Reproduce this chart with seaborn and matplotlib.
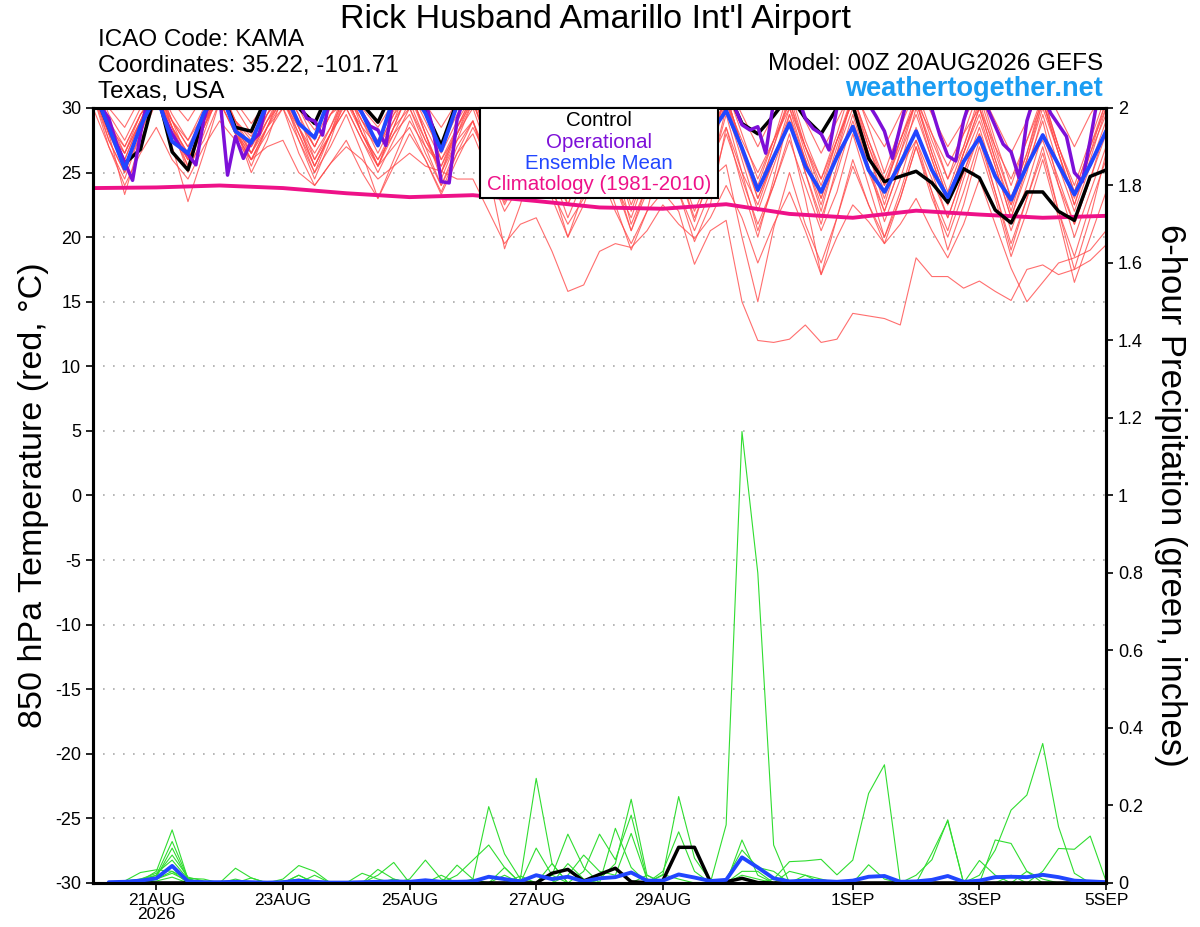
import numpy as np
import seaborn as sns
import matplotlib.pyplot as plt
from matplotlib.patches import Rectangle

sns.set_style('ticks')
plt.rcParams['font.family'] = ['Liberation Sans', 'DejaVu Sans']
plt.rcParams['axes.unicode_minus'] = False
for key in ('text.color', 'axes.labelcolor', 'xtick.color', 'ytick.color', 'axes.edgecolor'):
    plt.rcParams[key] = 'black'

# x axis: days after 00Z 20AUG2026
tick_days = [1, 3, 5, 7, 9, 12, 14, 16]
tick_labels = ['21AUG\n2026', '23AUG', '25AUG', '27AUG', '29AUG', '1SEP', '3SEP', '5SEP']

# 850 hPa temperature, 6-hourly 00Z 20AUG -> 00Z 5SEP (one row per day)
control_t = [31.5, 28.5, 25.7, 26.8,  31.5, 26.6, 25.2, 29.5,  31.5, 28.5, 28.2, 31.0,
             31.5, 30.0, 28.8, 31.5,  31.5, 30.3, 28.9, 31.5,  31.5, 29.8, 27.1, 30.5,
             31.5, 30.5, 29.0, 31.0,  32.0, 30.5, 29.0, 31.0,  32.0, 30.0, 28.5, 30.5,
             31.5, 30.0, 29.0, 30.5,  31.5, 28.8, 28.0, 29.4,  31.0, 29.2, 28.0, 30.0,
             30.2, 26.1, 24.3, 24.7,  25.1, 24.2, 22.7, 25.3,  24.6, 22.1, 21.1, 23.5,
             23.5, 22.0, 21.3, 24.7,  25.2]

mean_t = [31.5, 28.5, 25.3, 28.6,  31.0, 27.4, 26.5, 29.6,  31.5, 28.2, 27.3, 30.4,
          31.5, 28.8, 27.7, 31.0,  31.5, 29.6, 27.1, 30.8,  31.5, 29.6, 26.7, 30.2,
          31.0, 29.0, 27.0, 29.5,  30.5, 28.0, 26.0, 28.5,  30.0, 27.5, 25.5, 28.0,
          29.5, 27.0, 25.0, 28.0,  29.8, 26.9, 23.65, 26.2, 28.8, 25.5, 23.5, 26.2,
          28.55, 25.2, 23.5, 25.7, 28.2, 25.2, 23.1, 25.85, 27.7, 24.7, 22.9, 25.5,
          27.9, 25.6, 23.3, 25.6,  28.2]

# operational run is 3-hourly
oper_t = [31.5, 30.1, 29.2, 27.2, 25.8, 24.4, 28.0, 31.0,
          31.0, 29.3, 28.0, 27.0, 26.4, 25.6, 29.1, 31.0,
          31.0, 24.8, 27.8, 26.1, 27.4, 28.0, 30.5, 31.5,
          31.5, 31.0, 30.5, 29.2, 29.0, 27.9, 31.0, 31.5,
          31.5, 31.0, 29.6, 28.6, 28.3, 27.1, 31.0, 31.5,
          31.5, 31.0, 30.5, 28.3, 24.3, 24.2, 29.1, 31.0,
          31.5, 31.0, 30.0, 29.0, 28.0, 29.0, 31.0, 32.0,
          31.0, 30.0, 29.0, 28.5, 29.5, 31.0, 32.0, 31.0,
          30.0, 28.5, 27.5, 28.5, 30.5, 32.0, 31.5, 30.0,
          28.5, 27.5, 28.5, 30.5, 32.0, 31.5, 30.5, 30.5,
          31.0, 30.2, 28.7, 28.3, 28.55, 26.5, 30.5, 31.5,
          31.5, 31.0, 29.2, 28.4, 28.0, 26.75, 30.0, 31.0,
          31.5, 31.0, 30.3, 29.3, 28.2, 26.1, 28.55, 31.0,
          31.5, 31.0, 29.9, 27.9, 26.3, 25.9, 29.0, 31.0,
          31.5, 30.0, 28.6, 27.2, 26.6, 24.6, 29.0, 31.0,
          31.0, 29.6, 28.7, 27.8, 25.0, 24.3, 27.5, 31.0,
          31.5]

# climatology, daily at 00Z
clim_t = [23.8, 23.85, 24.0, 23.8, 23.4, 23.1, 23.25, 22.8, 22.3,
          22.2, 22.55, 21.8, 21.5, 22.05, 21.75, 21.5, 21.65]

red_members = [
    [32.0, 30.0, 28.5, 30.8, 32.5, 30.5, 29.0, 31.0, 32.5, 30.5, 28.8, 30.5, 32.0, 30.0, 28.3, 30.2,
     32.0, 30.0, 28.5, 30.5, 32.5, 30.3, 28.5, 30.5, 32.0, 29.5, 27.5, 30.0, 31.5, 29.0, 27.0, 29.5,
     32.0, 29.5, 27.5, 30.0, 32.5, 30.0, 28.0, 30.0, 32.0, 29.5, 27.0, 29.5, 31.5, 29.0, 26.5, 29.0,
     31.5, 29.0, 27.0, 29.5, 32.0, 29.5, 27.0, 29.0, 31.5, 29.0, 26.5, 29.0, 32.0, 29.5, 27.0, 29.5, 31.5],
    [31.5, 28.0, 26.0, 29.0, 31.5, 29.0, 27.5, 29.5, 31.0, 29.0, 27.8, 30.0, 31.5, 29.5, 27.0, 29.5,
     31.0, 29.0, 27.5, 29.8, 31.5, 29.0, 26.5, 29.0, 31.0, 28.5, 25.5, 28.0, 30.5, 27.5, 24.0, 27.0,
     30.0, 27.0, 25.0, 27.5, 31.0, 28.5, 26.5, 28.5, 30.5, 27.5, 25.0, 27.5, 30.0, 27.0, 24.5, 27.5,
     30.5, 27.0, 24.0, 27.0, 30.5, 28.0, 25.5, 28.0, 30.0, 27.0, 24.5, 27.5, 30.5, 27.0, 23.5, 27.0, 30.5],
    [31.5, 27.5, 25.0, 28.0, 31.0, 28.5, 26.5, 29.0, 31.0, 28.5, 27.0, 29.0, 30.5, 28.5, 26.5, 28.5,
     31.0, 28.0, 26.0, 28.5, 30.0, 27.5, 25.0, 27.5, 29.0, 26.0, 24.0, 26.5, 28.0, 25.0, 22.5, 25.5,
     27.5, 24.0, 21.5, 25.0, 29.0, 25.5, 23.0, 26.0, 28.5, 25.0, 22.5, 26.0, 29.0, 26.0, 23.0, 26.5,
     28.5, 25.0, 22.0, 25.5, 27.5, 24.5, 21.5, 25.0, 28.0, 25.0, 22.5, 25.5, 27.5, 24.0, 21.0, 24.5, 28.0],
    [31.0, 27.0, 24.5, 28.0, 31.5, 28.0, 26.0, 28.5, 31.0, 28.5, 26.5, 29.0, 31.0, 29.0, 27.0, 29.5,
     30.5, 28.0, 26.0, 28.0, 29.5, 26.5, 24.0, 26.5, 28.0, 25.0, 22.0, 24.0, 26.0, 23.5, 21.0, 23.0,
     25.0, 22.0, 19.5, 22.0, 23.5, 22.0, 17.9, 20.5, 21.3, 15.0, 12.0, 11.85, 12.1, 13.2, 11.85, 12.1,
     14.1, 13.9, 13.7, 13.2, 18.4, 16.95, 16.95, 16.05, 16.6, 15.8, 15.1, 17.5, 17.85, 17.1, 17.5, 18.2, 19.4],
    [31.5, 28.5, 26.0, 29.0, 32.0, 29.0, 27.0, 29.5, 31.5, 29.0, 27.5, 29.5, 31.0, 28.5, 26.0, 28.0,
     30.0, 27.5, 25.5, 27.0, 28.5, 26.0, 23.5, 26.5, 29.0, 25.0, 19.1, 22.5, 27.0, 23.0, 20.0, 23.5,
     28.0, 24.0, 20.5, 24.0, 28.5, 25.0, 21.5, 24.5, 25.6, 20.0, 15.0, 20.7, 25.0, 21.0, 18.0, 21.5,
     26.0, 22.5, 19.5, 23.0, 27.0, 23.0, 20.0, 23.5, 27.5, 23.5, 19.5, 23.0, 26.5, 22.0, 18.5, 22.5, 26.0],
    [30.0, 27.0, 24.0, 26.5, 28.5, 26.0, 24.5, 27.0, 29.0, 27.5, 26.0, 27.0, 27.5, 25.0, 24.0, 25.7,
     27.0, 26.0, 24.5, 25.5, 26.5, 25.5, 25.1, 24.5, 24.5, 22.0, 19.5, 21.0, 21.5, 18.9, 15.8, 16.3,
     18.9, 19.5, 19.2, 20.5, 22.5, 21.0, 19.9, 21.5, 24.0, 21.5, 18.0, 21.0, 23.5, 20.5, 17.1, 20.0,
     22.5, 21.2, 19.5, 21.0, 23.0, 20.5, 18.4, 21.0, 24.5, 21.0, 17.6, 15.0, 16.5, 18.0, 18.4, 19.0, 20.5],
    [32.0, 29.0, 27.0, 29.5, 31.0, 28.0, 25.5, 27.5, 30.5, 28.0, 26.0, 28.5, 31.5, 28.5, 25.5, 28.0,
     30.5, 28.5, 27.0, 29.0, 31.0, 28.0, 25.0, 28.0, 30.0, 26.5, 23.0, 26.0, 29.5, 26.0, 23.0, 25.5,
     28.0, 24.5, 20.5, 23.5, 27.0, 23.5, 19.65, 22.5, 28.5, 24.0, 20.0, 24.5, 29.5, 25.0, 21.5, 25.0,
     29.0, 25.5, 22.0, 25.5, 30.0, 26.0, 22.5, 26.5, 29.5, 25.5, 21.5, 25.5, 29.0, 24.0, 20.0, 23.5, 27.0],
    [31.0, 27.5, 25.0, 28.5, 31.5, 27.0, 22.75, 26.5, 30.5, 28.0, 26.5, 28.5, 30.0, 26.5, 24.0, 25.7,
     27.5, 25.0, 23.0, 25.5, 28.0, 26.0, 23.3, 26.0, 28.5, 26.0, 22.7, 25.5, 29.0, 25.0, 21.5, 24.5,
     29.5, 25.5, 21.0, 24.0, 29.0, 25.0, 21.2, 25.0, 30.0, 26.0, 22.0, 25.5, 29.0, 25.0, 21.0, 25.5,
     29.5, 25.5, 21.2, 24.5, 28.5, 25.0, 21.5, 25.0, 28.5, 24.5, 20.5, 24.0, 28.0, 24.5, 21.0, 24.5, 28.5],
    [32.0, 28.0, 23.3, 27.5, 30.5, 28.0, 26.0, 28.5, 31.0, 28.5, 26.0, 28.0, 30.0, 27.5, 25.0, 27.0,
     29.5, 26.5, 23.0, 26.0, 29.0, 27.0, 25.5, 28.0, 30.5, 27.0, 23.5, 26.5, 30.0, 26.5, 23.5, 27.0,
     30.5, 27.5, 24.5, 27.5, 30.0, 27.0, 24.0, 27.0, 30.5, 26.5, 23.0, 26.0, 30.0, 26.0, 22.0, 26.5,
     31.0, 27.0, 23.5, 27.5, 30.5, 26.5, 23.0, 26.5, 30.0, 26.0, 22.0, 26.0, 30.5, 26.5, 22.5, 26.5, 29.5],
    [32.5, 29.5, 27.5, 30.0, 32.0, 29.5, 27.5, 30.0, 32.0, 30.0, 28.0, 30.5, 32.5, 30.0, 27.5, 30.0,
     32.0, 29.5, 27.0, 29.5, 32.0, 29.5, 27.0, 29.5, 31.5, 28.5, 26.0, 28.5, 31.0, 28.0, 25.0, 28.0,
     31.5, 28.0, 25.5, 28.5, 31.0, 27.5, 24.5, 27.5, 31.0, 27.0, 24.0, 27.5, 31.5, 27.5, 24.5, 28.0,
     32.0, 28.5, 25.0, 28.5, 31.5, 28.0, 24.5, 28.0, 31.5, 27.5, 24.0, 27.5, 31.0, 27.0, 23.5, 27.0, 30.0],
    [31.5, 28.0, 25.5, 28.5, 32.0, 28.5, 25.5, 28.5, 32.0, 29.0, 26.5, 29.5, 31.5, 28.5, 25.5, 28.0,
     31.0, 28.0, 25.5, 28.5, 31.5, 28.0, 24.5, 27.5, 30.5, 27.0, 24.0, 27.5, 31.0, 27.0, 23.5, 26.5,
     30.5, 26.5, 22.5, 25.5, 29.0, 25.5, 22.0, 25.0, 29.5, 25.0, 20.5, 24.0, 28.0, 23.0, 17.1, 21.5,
     25.5, 22.5, 20.0, 23.0, 27.0, 23.5, 20.5, 24.5, 28.0, 23.5, 19.0, 23.0, 27.0, 22.0, 17.5, 21.5, 26.5],
    [31.0, 28.5, 27.0, 29.5, 31.0, 29.0, 27.0, 29.0, 31.5, 29.0, 27.0, 29.5, 32.0, 29.5, 26.0, 28.5,
     31.5, 29.0, 26.5, 29.0, 32.0, 29.5, 26.0, 28.0, 31.0, 27.5, 24.5, 27.0, 30.5, 26.5, 22.5, 26.0,
     29.5, 26.0, 22.0, 25.5, 30.5, 27.0, 23.5, 27.0, 31.0, 27.0, 23.5, 27.0, 30.5, 26.5, 23.0, 27.0,
     31.0, 27.5, 24.0, 27.5, 31.0, 27.5, 24.5, 27.0, 30.5, 26.5, 23.0, 26.5, 31.0, 27.0, 24.0, 27.5, 31.0],
    [32.0, 29.0, 26.5, 29.5, 31.5, 28.5, 26.0, 29.0, 31.0, 28.5, 26.5, 29.0, 31.5, 29.0, 27.0, 29.5,
     31.5, 29.0, 27.0, 29.5, 31.0, 28.5, 26.0, 28.5, 30.5, 27.5, 25.0, 28.0, 30.0, 27.0, 24.5, 27.5,
     30.5, 27.0, 24.0, 27.0, 30.0, 26.5, 23.5, 26.5, 30.5, 27.0, 23.0, 26.0, 29.5, 26.0, 22.5, 26.5,
     30.0, 26.5, 23.0, 26.5, 29.5, 26.0, 22.5, 26.0, 29.0, 25.5, 21.5, 25.0, 29.5, 25.5, 22.0, 25.5, 29.0],
    [31.0, 28.0, 26.5, 29.0, 31.0, 28.5, 26.5, 29.0, 30.5, 28.0, 26.0, 28.5, 30.5, 28.0, 25.5, 28.0,
     30.0, 27.5, 25.0, 27.5, 30.0, 27.0, 24.0, 27.0, 29.0, 25.5, 22.5, 25.0, 27.5, 24.0, 20.0, 22.5,
     26.0, 22.5, 19.0, 22.0, 27.0, 23.5, 20.5, 23.5, 28.0, 24.5, 21.0, 24.0, 27.5, 24.0, 20.5, 23.5,
     28.0, 24.0, 20.0, 23.5, 27.5, 23.5, 19.0, 22.5, 27.0, 23.0, 18.5, 22.0, 26.0, 21.5, 16.5, 20.0, 23.5],
    [32.5, 29.0, 25.5, 28.5, 32.0, 28.5, 25.0, 28.0, 31.5, 28.5, 25.5, 28.5, 31.0, 28.0, 25.0, 28.0,
     31.5, 28.5, 25.5, 28.5, 31.5, 28.0, 25.0, 28.5, 31.0, 27.5, 24.5, 27.0, 30.0, 26.5, 23.5, 27.0,
     30.5, 27.0, 23.0, 26.5, 30.5, 27.0, 23.5, 27.0, 31.0, 27.0, 23.5, 27.0, 31.0, 27.0, 23.5, 27.5,
     30.5, 26.5, 22.5, 26.5, 30.5, 27.0, 23.5, 27.0, 31.0, 27.0, 23.0, 26.5, 30.5, 26.5, 22.5, 26.0, 30.0],
    [31.5, 28.5, 26.5, 29.0, 32.0, 29.0, 26.0, 28.5, 31.5, 28.5, 25.0, 27.5, 31.0, 27.5, 24.5, 27.5,
     31.0, 28.0, 25.5, 28.0, 30.5, 27.5, 25.5, 28.5, 31.0, 28.0, 25.5, 28.0, 30.5, 27.5, 24.5, 27.5,
     31.0, 27.5, 24.0, 27.5, 31.5, 28.0, 25.0, 28.0, 31.5, 28.0, 24.5, 27.5, 30.5, 27.0, 24.0, 27.5,
     31.0, 27.5, 24.5, 27.5, 30.5, 26.5, 23.0, 26.5, 30.0, 26.0, 22.5, 26.0, 30.0, 26.5, 23.0, 26.5, 30.5],
]

# 6-hour precipitation (inches), 06Z 20AUG -> 00Z 5SEP
control_p = [0, 0, 0, 0, 0, 0, 0, 0,  0, 0, 0, 0, 0, 0, 0, 0,
             0, 0, 0, 0, 0, 0, 0, 0,  0, 0, 0, 0, 0.025, 0.035, 0.005, 0.022,
             0.038, 0.003, 0.001, 0.006, 0.092, 0.092, 0.003, 0.003,
             0.012, 0.001, 0, 0, 0, 0, 0, 0,
             0, 0, 0, 0, 0, 0, 0, 0,  0, 0, 0, 0, 0, 0, 0, 0]

mean_p = [0.002, 0.003, 0.006, 0.012, 0.044, 0.004, 0.002, 0.002,
          0.003, 0.002, 0.001, 0.002, 0.006, 0.003, 0.001, 0.001,
          0.002, 0.003, 0.004, 0.003, 0.007, 0.003, 0.003, 0.004,
          0.016, 0.010, 0.004, 0.020, 0.010, 0.016, 0.004, 0.012,
          0.015, 0.027, 0.006, 0.006, 0.022, 0.014, 0.005, 0.008,
          0.066, 0.040, 0.012, 0.004, 0.006, 0.005, 0.003, 0.006,
          0.016, 0.018, 0.003, 0.004, 0.008, 0.018, 0.003, 0.006,
          0.015, 0.016, 0.015, 0.021, 0.015, 0.006, 0.004, 0.002]

green_members = [
    [0, 0, 0.005, 0.03, 0.137, 0.01, 0, 0,  0, 0, 0, 0, 0, 0, 0, 0,  0, 0, 0, 0, 0, 0, 0, 0,
     0, 0, 0, 0, 0, 0, 0, 0,  0, 0, 0, 0, 0, 0, 0, 0.15,  1.165, 0.80, 0.098, 0, 0, 0, 0, 0,
     0, 0, 0, 0, 0, 0, 0, 0,  0, 0, 0, 0, 0, 0, 0, 0],
    [0, 0, 0.004, 0.02, 0.107, 0.012, 0.01, 0,  0, 0, 0, 0.005, 0.01, 0, 0, 0,  0, 0, 0, 0, 0, 0, 0, 0.01,
     0.197, 0.075, 0.01, 0, 0, 0, 0, 0,  0, 0, 0, 0.02, 0.223, 0.064, 0.005, 0,
     0, 0, 0.01, 0.055, 0.057, 0.061, 0.021, 0.059,  0.231, 0.305, 0, 0, 0, 0, 0, 0,  0, 0, 0, 0, 0, 0, 0, 0],
    [0, 0, 0.003, 0.015, 0.09, 0.01, 0, 0,  0, 0, 0, 0, 0, 0, 0, 0,  0, 0, 0.01, 0, 0, 0, 0, 0,
     0, 0, 0.01, 0.27, 0.05, 0, 0, 0.01,  0.05, 0.216, 0.02, 0, 0, 0, 0, 0,  0.02, 0.01, 0, 0, 0, 0, 0, 0,
     0, 0, 0, 0, 0, 0, 0, 0.02,  0.085, 0.188, 0.227, 0.36, 0.145, 0.025, 0, 0],
    [0, 0, 0.01, 0.02, 0.072, 0.015, 0.005, 0,  0, 0, 0, 0.01, 0.045, 0.03, 0, 0,  0, 0, 0, 0, 0, 0, 0, 0,
     0, 0.02, 0, 0, 0.02, 0.126, 0.04, 0,  0.141, 0.04, 0, 0, 0, 0, 0, 0,  0, 0, 0, 0, 0, 0, 0, 0,
     0, 0, 0, 0.02, 0.06, 0.163, 0, 0,  0.111, 0.102, 0.03, 0, 0, 0, 0, 0],
    [0, 0.005, 0.01, 0.025, 0.059, 0.01, 0, 0,  0.038, 0.013, 0, 0, 0.02, 0, 0, 0,  0, 0, 0, 0.01, 0.059, 0.01, 0, 0,
     0, 0, 0, 0, 0, 0, 0.03, 0.126,  0.06, 0.175, 0.01, 0, 0, 0, 0, 0,  0.111, 0.02, 0, 0, 0, 0, 0, 0,
     0, 0, 0, 0, 0, 0, 0, 0,  0, 0, 0, 0.03, 0.089, 0.087, 0.121, 0.005],
    [0, 0, 0.005, 0.01, 0.042, 0.005, 0, 0,  0.01, 0, 0, 0, 0, 0, 0, 0,  0, 0.02, 0.053, 0, 0, 0, 0.02, 0.059,
     0.098, 0.04, 0, 0.09, 0.02, 0, 0, 0,  0, 0, 0, 0.03, 0.132, 0.03, 0, 0,  0, 0, 0, 0.03, 0.02, 0.01, 0, 0,
     0, 0, 0, 0, 0, 0, 0, 0,  0, 0, 0, 0, 0, 0, 0, 0],
    [0, 0.005, 0.027, 0.034, 0.03, 0.01, 0, 0,  0, 0, 0, 0, 0, 0, 0, 0,  0, 0.035, 0.01, 0, 0, 0, 0.046, 0.01,
     0, 0, 0, 0, 0, 0.02, 0.072, 0.03,  0.02, 0.128, 0.01, 0, 0, 0, 0, 0,  0, 0, 0, 0, 0, 0, 0, 0,
     0, 0, 0, 0, 0.077, 0.16, 0, 0,  0, 0, 0, 0, 0, 0, 0, 0],
    [0, 0, 0, 0.01, 0.025, 0.005, 0, 0,  0, 0, 0, 0, 0.02, 0, 0, 0,  0.025, 0.01, 0, 0, 0, 0, 0, 0,
     0, 0.04, 0, 0, 0.05, 0, 0, 0,  0, 0, 0, 0, 0, 0, 0, 0.01,  0.085, 0.04, 0.03, 0, 0, 0, 0, 0,
     0.047, 0.01, 0, 0, 0, 0, 0, 0.058,  0.02, 0, 0, 0, 0, 0, 0, 0],
    [0, 0, 0, 0.005, 0.015, 0, 0, 0,  0, 0, 0, 0, 0, 0.02, 0, 0,  0, 0, 0, 0, 0, 0.02, 0, 0,
     0, 0, 0, 0, 0, 0.05, 0.01, 0,  0, 0, 0, 0.022, 0.01, 0, 0, 0,  0.03, 0.03, 0, 0, 0, 0, 0, 0,
     0, 0, 0, 0, 0, 0, 0, 0,  0, 0, 0.03, 0.01, 0, 0, 0, 0],
    [0, 0, 0, 0.01, 0.03, 0, 0, 0,  0, 0.013, 0, 0, 0, 0, 0, 0,  0, 0, 0, 0, 0, 0, 0, 0,
     0, 0, 0.018, 0, 0, 0, 0, 0,  0, 0, 0.02, 0, 0, 0, 0, 0,  0, 0, 0, 0, 0.02, 0, 0, 0,
     0, 0, 0, 0, 0, 0, 0, 0,  0, 0.02, 0, 0, 0, 0, 0, 0],
]

t6 = np.arange(len(mean_t)) * 0.25
t3 = np.arange(len(oper_t)) * 0.125
tday = np.arange(len(clim_t))
tp = np.arange(1, len(mean_p) + 1) * 0.25

fig = plt.figure(figsize=(12, 9.27), dpi=100)
ax = fig.add_axes([0.0775, 0.0475, 0.8442, 0.836])
ax2 = ax.twinx()

for m in red_members:
    sns.lineplot(x=t6, y=m, ax=ax, color='#ff4a4a', lw=0.8, alpha=0.8, estimator=None)
sns.lineplot(x=tday, y=clim_t, ax=ax, color='#ee1188', lw=2.8, estimator=None)
sns.lineplot(x=t6, y=control_t, ax=ax, color='black', lw=2.5, estimator=None)
sns.lineplot(x=t3, y=oper_t, ax=ax, color='#7d0fd8', lw=2.5, estimator=None)
sns.lineplot(x=t6, y=mean_t, ax=ax, color='#2146ff', lw=2.8, estimator=None)

for g in green_members:
    sns.lineplot(x=tp, y=g, ax=ax2, color='#30dd30', lw=0.8, estimator=None)
sns.lineplot(x=tp, y=control_p, ax=ax2, color='black', lw=2.5, estimator=None)
sns.lineplot(x=tp, y=mean_p, ax=ax2, color='#2146ff', lw=2.8, estimator=None)

ax.set_xlim(0, 16)
ax.set_ylim(-30, 30)
ax2.set_ylim(0, 2)
ax.set_yticks(range(-30, 31, 5))
ax.set_xticks(tick_days)
ax.set_xticklabels(tick_labels, linespacing=0.95)
ax2.set_yticks(np.arange(0, 2.01, 0.2))
ax2.set_yticklabels([f'{v:g}' for v in np.round(np.arange(0, 2.01, 0.2), 1)])
ax.yaxis.grid(True, linestyle=(0, (1, 5)), color='#aaaaaa', lw=1.2)
for a in (ax, ax2):
    a.set_xlabel('')
    a.set_ylabel('')
    a.tick_params(labelsize=13, length=5, width=1.2, direction='out', colors='black')
    for s in a.spines.values():
        s.set_linewidth(2.2)
        s.set_color('black')
ax.tick_params(axis='x', labelsize=12.5, pad=2)

fig.text(0.496, 0.979, "Rick Husband Amarillo Int'l Airport", ha='center', va='center', fontsize=24.5)
fig.text(98 / 1200, 1 - 40 / 927, 'ICAO Code: KAMA', ha='left', va='center', fontsize=17.5)
fig.text(98 / 1200, 1 - 66 / 927, 'Coordinates: 35.22, -101.71', ha='left', va='center', fontsize=17.5)
fig.text(98 / 1200, 1 - 92 / 927, 'Texas, USA', ha='left', va='center', fontsize=17.5)
fig.text(1103 / 1200, 1 - 64 / 927, 'Model: 00Z 20AUG2026 GEFS', ha='right', va='center', fontsize=17.5)
fig.text(1103 / 1200, 1 - 89 / 927, 'weathertogether.net', ha='right', va='center',
         fontsize=19.5, fontweight='bold', color='#1a9cf2')
fig.text(34 / 1200, 1 - 495 / 927, '850 hPa Temperature (red, °C)', rotation=90,
         ha='center', va='center', fontsize=24.5)
fig.text(1170 / 1200, 1 - 495 / 927, '6-hour Precipitation (green, inches)', rotation=270,
         ha='center', va='center', fontsize=25)

# legend box
fig.add_artist(Rectangle((480 / 1200, 1 - 198 / 927), 238 / 1200, 90 / 927, transform=fig.transFigure,
                         facecolor='white', edgecolor='black', lw=1.5, zorder=10))
legend_items = [('Control', 'black'), ('Operational', '#7d0fd8'),
                ('Ensemble Mean', '#2146ff'), ('Climatology (1981-2010)', '#ee1188')]
for k, (txt, col) in enumerate(legend_items):
    fig.text(599 / 1200, 1 - (121 + 21.3 * k) / 927, txt, color=col, ha='center', va='center',
             fontsize=14.8, zorder=11)

fig.savefig('out.png', dpi=100)
